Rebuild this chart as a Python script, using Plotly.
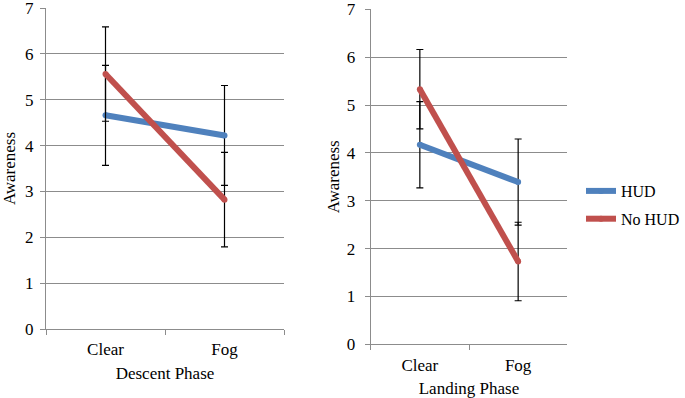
import plotly.graph_objects as go

categories = ["Clear", "Fog"]
series_names = ["HUD", "No HUD"]

# Descent phase
descent_hud = [4.66, 4.22]
descent_hud_err = [1.09, 1.09]
descent_nohud = [5.56, 2.82]
descent_nohud_err = [1.03, 1.03]

# Landing phase
landing_hud = [4.17, 3.39]
landing_hud_err = [0.90, 0.90]
landing_nohud = [5.33, 1.73]
landing_nohud_err = [0.83, 0.82]

y_ticks = [0, 1, 2, 3, 4, 5, 6, 7]

colors = {"HUD": "#4F81BD", "No HUD": "#C0504D"}
FONT = "Liberation Serif"
FS = 17
GRID = "#8c8c8c"

fig = go.Figure()

def add_series(name, vals, errs, xa, ya, show):
    fig.add_trace(go.Scatter(
        x=categories, y=vals, name=name, mode="lines+markers",
        line=dict(color=colors[name], width=6),
        marker=dict(size=6, color=colors[name]),
        error_y=dict(type="data", array=errs, visible=True, color="black",
                     thickness=1.2, width=3.5),
        xaxis=xa, yaxis=ya, showlegend=show, legendgroup=name,
    ))

add_series("HUD", descent_hud, descent_hud_err, "x", "y", True)
add_series("No HUD", descent_nohud, descent_nohud_err, "x", "y", True)
add_series("HUD", landing_hud, landing_hud_err, "x2", "y2", False)
add_series("No HUD", landing_nohud, landing_nohud_err, "x2", "y2", False)

W, H = 685, 398

def xaxis_cfg(domain, title, lstand, tstand):
    return dict(
        domain=domain, type="category", categoryorder="array", categoryarray=categories,
        range=[-0.5, 1.5], tickson="boundaries", ticks="outside", ticklen=5,
        tickcolor=GRID, showgrid=False, showline=True, linecolor=GRID, linewidth=1,
        tickfont=dict(family=FONT, size=FS, color="black"), ticklabelstandoff=lstand,
        title=dict(text=title, font=dict(family=FONT, size=FS, color="black"), standoff=tstand),
        zeroline=False, fixedrange=True, automargin=False,
    )

def yaxis_cfg(domain, anchor, lstand, tstand):
    return dict(
        domain=domain, anchor=anchor, range=[0, 7], tickvals=y_ticks,
        ticks="outside", ticklen=5, tickcolor=GRID,
        showgrid=True, gridcolor=GRID, gridwidth=1,
        showline=True, linecolor=GRID, linewidth=1, zeroline=False,
        tickfont=dict(family=FONT, size=FS, color="black"), ticklabelstandoff=lstand,
        ticklabeloverflow="allow",
        title=dict(text="Awareness", font=dict(family=FONT, size=FS, color="black"), standoff=tstand),
        fixedrange=True, automargin=False,
    )

fig.update_layout(
    width=W, height=H,
    margin=dict(l=0, r=0, t=0, b=0),
    paper_bgcolor="white", plot_bgcolor="white",
    xaxis=dict(xaxis_cfg([46 / W, 284 / W], "Descent Phase", 5, 8), anchor="y"),
    yaxis=yaxis_cfg([(H - 329) / H, (H - 8) / H], "x", 3, 7),
    xaxis2=dict(xaxis_cfg([370.7 / W, 567.3 / W], "Landing Phase", 5, 9), anchor="y2"),
    yaxis2=yaxis_cfg([(H - 344.3) / H, (H - 9.3) / H], "x2", 6, 2),
    legend=dict(x=1, y=1 - 205 / H, xanchor="right", yanchor="middle",
                font=dict(family=FONT, size=16, color="black"),
                bgcolor="rgba(0,0,0,0)", itemwidth=30, tracegroupgap=4),
    showlegend=True,
)

fig.write_html("out.html", config={"displayModeBar": False},
               post_script="document.body.style.margin='0';document.body.style.overflow='hidden';")
